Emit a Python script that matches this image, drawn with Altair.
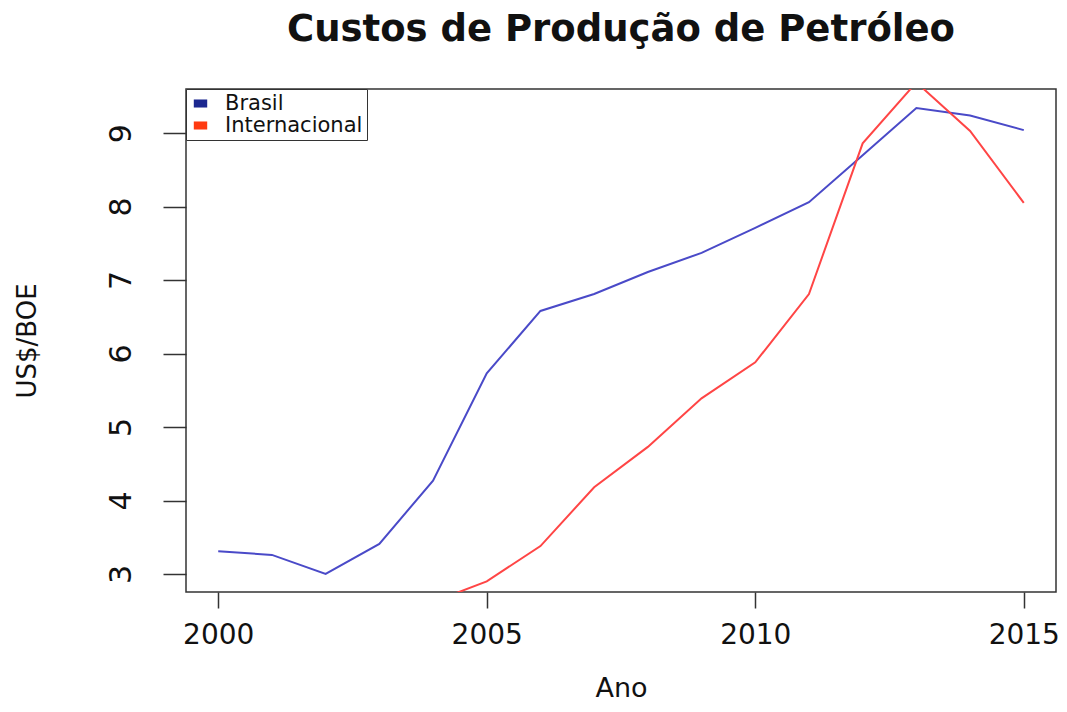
import altair as alt
import pandas as pd

anos = list(range(2000, 2016))
brasil = [3.31, 3.26, 3.00, 3.41, 4.27, 5.73, 6.58, 6.81, 7.11, 7.37, 7.71, 8.06, 8.70, 9.34, 9.24, 9.04]
anos_int = list(range(2004, 2016))
internacional = [2.62, 2.90, 3.38, 4.18, 4.73, 5.39, 5.88, 6.81, 8.86, 9.69, 9.03, 8.05]

series = ["Brasil", "Internacional"]
line_colors = ["#4a4ac8", "#ff4545"]
legend_colors = ["#1c2890", "#ff3a10"]

rows = [{"ano": a, "valor": v, "serie": "Brasil"} for a, v in zip(anos, brasil)]
rows += [{"ano": a, "valor": v, "serie": "Internacional"} for a, v in zip(anos_int, internacional)]
df = pd.DataFrame(rows)
df["legenda"] = df["serie"]

FONT = "DejaVu Sans"

x = alt.X("ano:Q", scale=alt.Scale(domain=[1999.4, 2015.6], nice=False, zero=False),
          axis=alt.Axis(values=[2000, 2005, 2010, 2015], format="d", title="Ano",
                        grid=False, domain=False, tickSize=16, tickColor="#333", tickWidth=1.5,
                        labelFontSize=28, labelFont=FONT, labelColor="#111", labelPadding=13,
                        titleFontSize=27, titleFont=FONT, titleFontWeight="normal",
                        titleColor="#111", titlePadding=26, labelFlush=False))
y = alt.Y("valor:Q", scale=alt.Scale(domain=[2.755, 9.60], nice=False, zero=False),
          axis=alt.Axis(values=[3, 4, 5, 6, 7, 8, 9], format="d", title="US$/BOE", grid=False,
                        domain=False, tickSize=23, tickColor="#333", tickWidth=1.5,
                        labelFontSize=30, labelFont=FONT, labelColor="#111", labelAngle=270,
                        labelAlign="center", labelBaseline="bottom", labelPadding=27,
                        titleFontSize=26, titleFont=FONT, titleFontWeight="normal",
                        titleColor="#111", titlePadding=66, labelFlush=False))

lines = alt.Chart(df).mark_line(strokeWidth=2, clip=True).encode(
    x=x, y=y,
    stroke=alt.Stroke("serie:N", scale=alt.Scale(domain=series, range=line_colors), legend=None),
    detail="serie:N",
)

legend_layer = alt.Chart(df).mark_point(filled=True, opacity=0, clip=True).encode(
    x=alt.X("ano:Q"), y=alt.Y("valor:Q"),
    fill=alt.Fill("legenda:N", scale=alt.Scale(domain=series, range=legend_colors),
                  legend=alt.Legend(title=None, orient="none", legendX=0, legendY=0,
                                    symbolType="M-1,-0.6L1,-0.6L1,0.6L-1,0.6Z",
                                    symbolSize=180, symbolOpacity=1, symbolStrokeWidth=0,
                                    labelFontSize=21, labelFont=FONT, labelColor="#111",
                                    rowPadding=0, padding=4, labelOffset=14,
                                    strokeColor="#333", fillColor="white")),
)

chart = alt.layer(lines, legend_layer).resolve_scale(fill="independent", stroke="independent").properties(
    width=870, height=503,
    title=alt.TitleParams("Custos de Produção de Petróleo", fontSize=37, font=FONT,
                          fontWeight="bold", color="#111", anchor="middle", offset=40),
    autosize=alt.AutoSizeParams(type="none"),
    padding={"left": 178, "top": 81, "right": 3, "bottom": 118},
).configure_view(stroke="#333", strokeWidth=1.5)

chart.save("out.html", embed_options={"renderer": "svg", "actions": False})
